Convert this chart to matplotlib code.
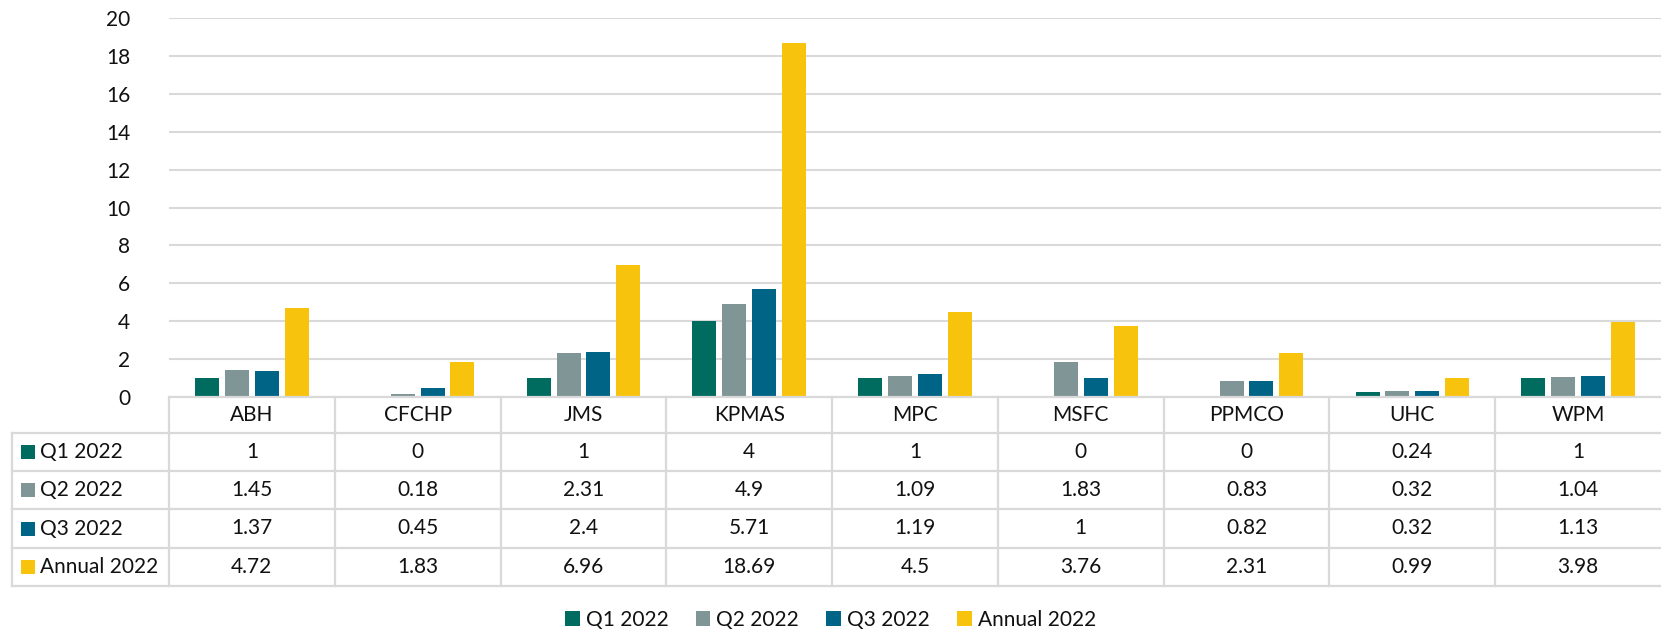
import matplotlib
matplotlib.use("Agg")
import matplotlib.pyplot as plt
from matplotlib.patches import Rectangle, Patch
from matplotlib.lines import Line2D

plt.rcParams['font.family'] = ['Lato', 'DejaVu Sans']

categories = ["ABH", "CFCHP", "JMS", "KPMAS", "MPC", "MSFC", "PPMCO", "UHC", "WPM"]
series_names = ["Q1 2022", "Q2 2022", "Q3 2022", "Annual 2022"]
q1 = [1, 0, 1, 4, 1, 0, 0, 0.24, 1]
q2 = [1.45, 0.18, 2.31, 4.9, 1.09, 1.83, 0.83, 0.32, 1.04]
q3 = [1.37, 0.45, 2.4, 5.71, 1.19, 1, 0.82, 0.32, 1.13]
annual = [4.72, 1.83, 6.96, 18.69, 4.5, 3.76, 2.31, 0.99, 3.98]
series = [q1, q2, q3, annual]
colors = ["#006B5F", "#7F9596", "#006487", "#F8C30D"]
yticks = [0, 2, 4, 6, 8, 10, 12, 14, 16, 18, 20]

W, H = 1661, 632
fig = plt.figure(figsize=(W / 100, H / 100), dpi=100)

# pixel layout
ax_left, ax_right = 169, 1661
ax_top, ax_bottom = 18, 397
ax = fig.add_axes([ax_left / W, (H - ax_bottom) / H, (ax_right - ax_left) / W, (ax_bottom - ax_top) / H])

n = len(categories)
bw = 0.145
step = 0.18
for i, (vals, c, name) in enumerate(zip(series, colors, series_names)):
    xs = [k + (i - 1.5) * step for k in range(n)]
    ax.bar(xs, vals, width=bw, color=c, label=name, zorder=3)

ax.set_xlim(-0.5, n - 0.5)
ax.set_ylim(0, 20)
ax.set_yticks(yticks)
ax.set_yticklabels([str(t) for t in yticks], fontsize=15, color="#111111")
ax.set_xticks([])
ax.tick_params(axis='y', length=0, pad=28)
for s in ax.spines.values():
    s.set_visible(False)
ax.grid(axis='y', color="#D9D9D9", linewidth=1.5, zorder=0)
ax.set_axisbelow(True)

# table drawn in figure pixel coordinates
def fy(y):
    return (H - y) / H

def fx(x):
    return x / W

line_kw = dict(color="#D9D9D9", linewidth=1.6, transform=fig.transFigure)
tbl_left = 12
header_top = 397
row_edges = [433, 471, 509, 548, 586]
col_w = (ax_right - ax_left) / n
col_edges = [ax_left + k * col_w for k in range(n + 1)]

# horizontal lines
fig.add_artist(Line2D([fx(ax_left), fx(W)], [fy(header_top)] * 2, **line_kw))
for y in row_edges:
    fig.add_artist(Line2D([fx(tbl_left), fx(W)], [fy(y)] * 2, **line_kw))
# vertical lines (no right border: table runs to the image edge)
for x in col_edges[:-1]:
    fig.add_artist(Line2D([fx(x)] * 2, [fy(header_top), fy(row_edges[-1])], **line_kw))
fig.add_artist(Line2D([fx(tbl_left)] * 2, [fy(row_edges[0]), fy(row_edges[-1])], **line_kw))

# header text
for k, cat in enumerate(categories):
    cx = (col_edges[k] + col_edges[k + 1]) / 2
    fig.text(fx(cx), fy((header_top + row_edges[0]) / 2), cat, ha='center', va='center',
             fontsize=15, color="#111111")

# rows
for r, (name, vals, c) in enumerate(zip(series_names, series, colors)):
    y0, y1 = row_edges[r], row_edges[r + 1]
    cy = (y0 + y1) / 2
    fig.add_artist(Rectangle((fx(21), fy(cy + 7)), 14 / W, 14 / H, facecolor=c,
                             edgecolor='none', transform=fig.transFigure))
    fig.text(fx(40), fy(cy), name, ha='left', va='center', fontsize=15, color="#111111")
    for k, v in enumerate(vals):
        cx = (col_edges[k] + col_edges[k + 1]) / 2
        fig.text(fx(cx), fy(cy), f"{v:g}", ha='center', va='center', fontsize=15, color="#111111")

# bottom legend
handles = [Patch(facecolor=c, edgecolor='none') for c in colors]
fig.legend(handles, series_names, loc='center', bbox_to_anchor=(0.5, fy(620)), ncol=4,
           frameon=False, fontsize=15, handlelength=0.7, handleheight=0.7,
           handletextpad=0.3, columnspacing=1.3, labelcolor="#111111")

fig.savefig("out.png", dpi=100)
